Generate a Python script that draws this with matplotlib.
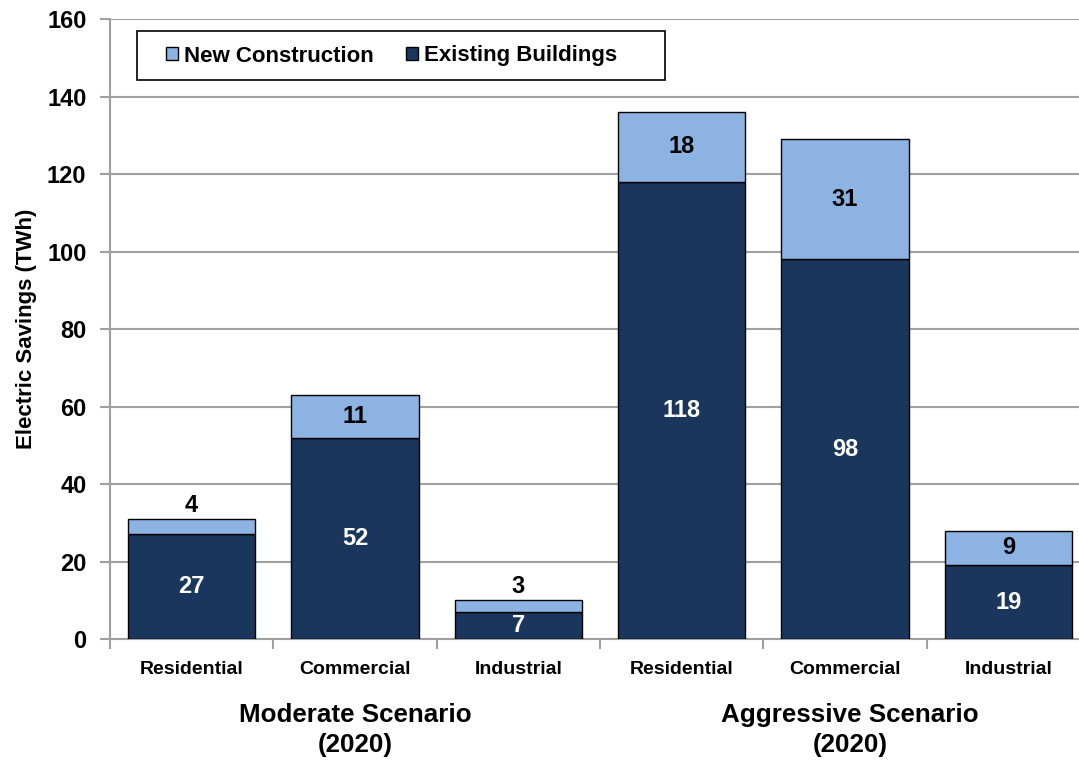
import matplotlib
matplotlib.use("Agg")
import matplotlib.pyplot as plt
from matplotlib.patches import Rectangle
import numpy as np

plt.rcParams['font.family'] = ['Liberation Sans', 'DejaVu Sans']
plt.rcParams['font.weight'] = 'bold'

# savings by sector, TWh
sectors = ['Residential', 'Commercial', 'Industrial',
           'Residential', 'Commercial', 'Industrial']
existing = [27, 52, 7, 118, 98, 19]
new_construction = [4, 11, 3, 18, 31, 9]
scenarios = ['Moderate Scenario\n(2020)', 'Aggressive Scenario\n(2020)']

dark = '#1A365D'
light = '#8DB3E2'
grey = '#A0A0A0'

W, H = 1079, 763
fig = plt.figure(figsize=(W / 100, H / 100), dpi=100)
ax = fig.add_axes([110 / W, 0.1625, 980 / W, 0.8126])

x = np.arange(len(sectors))
b1 = ax.bar(x, existing, width=0.78, color=dark, edgecolor='black',
            linewidth=1, label='Existing Buildings', zorder=3)
b2 = ax.bar(x, new_construction, width=0.78, bottom=existing, color=light,
            edgecolor='black', linewidth=1, label='New Construction', zorder=3)

# value labels
for xi, e, n in zip(x, existing, new_construction):
    ax.text(xi, e / 2, str(e), ha='center', va='center', color='white',
            fontsize=17, fontweight='bold', zorder=4)
    if n < 6:
        ax.text(xi, e + n + 0.6, str(n), ha='center', va='bottom',
                color='black', fontsize=17, fontweight='bold', zorder=4)
    else:
        ax.text(xi, e + n / 2, str(n), ha='center', va='center',
                color='black', fontsize=17, fontweight='bold', zorder=4)

ax.set_xlim(-0.5, 5.5)
ax.set_ylim(0, 160)
ax.set_yticks(np.arange(0, 161, 20))
ax.yaxis.grid(True, color=grey, linewidth=1.5, zorder=0)
ax.set_axisbelow(True)

ax.set_xticks(x)
ax.set_xticklabels(sectors, fontsize=14, fontweight='bold')
ax.set_xticks(np.arange(-0.5, 6, 1), minor=True)
ax.tick_params(axis='x', which='major', length=0, pad=16)
ax.tick_params(axis='x', which='minor', length=7, width=1.5, color=grey)
ax.tick_params(axis='y', length=7, width=1.5, color=grey, labelsize=17, pad=10)
for lab in ax.get_yticklabels():
    lab.set_fontweight('bold')

for s in ['top', 'right']:
    ax.spines[s].set_visible(False)
ax.spines['left'].set_color(grey)
ax.spines['left'].set_linewidth(1.5)
ax.spines['bottom'].set_color(grey)
ax.spines['bottom'].set_linewidth(1.5)

ax.set_ylabel('Electric Savings (TWh)', fontsize=16, fontweight='bold',
              labelpad=7)

for cx, txt in zip([355, 850], scenarios):
    fig.text(cx / W, 1 - 730 / H, txt, ha='center', va='center',
             fontsize=18.7, fontweight='bold', linespacing=1.3)

# legend box, with the entries placed inside it
fig.patches.append(Rectangle((137 / W, 1 - 80 / H), 528 / W, 49 / H,
                             transform=fig.transFigure, facecolor='white',
                             edgecolor='black', linewidth=1.2, zorder=5))
leg = fig.legend(handles=[b2, b1], loc='center left',
                 bbox_to_anchor=(166 / W, 1 - 56 / H), borderaxespad=0,
                 ncol=2, frameon=False, borderpad=0,
                 prop={'size': 16, 'weight': 'bold'},
                 handlelength=0.55, handleheight=0.55, handletextpad=0.25,
                 columnspacing=1.45)
leg.set_zorder(6)

fig.savefig('out.png', dpi=100)
